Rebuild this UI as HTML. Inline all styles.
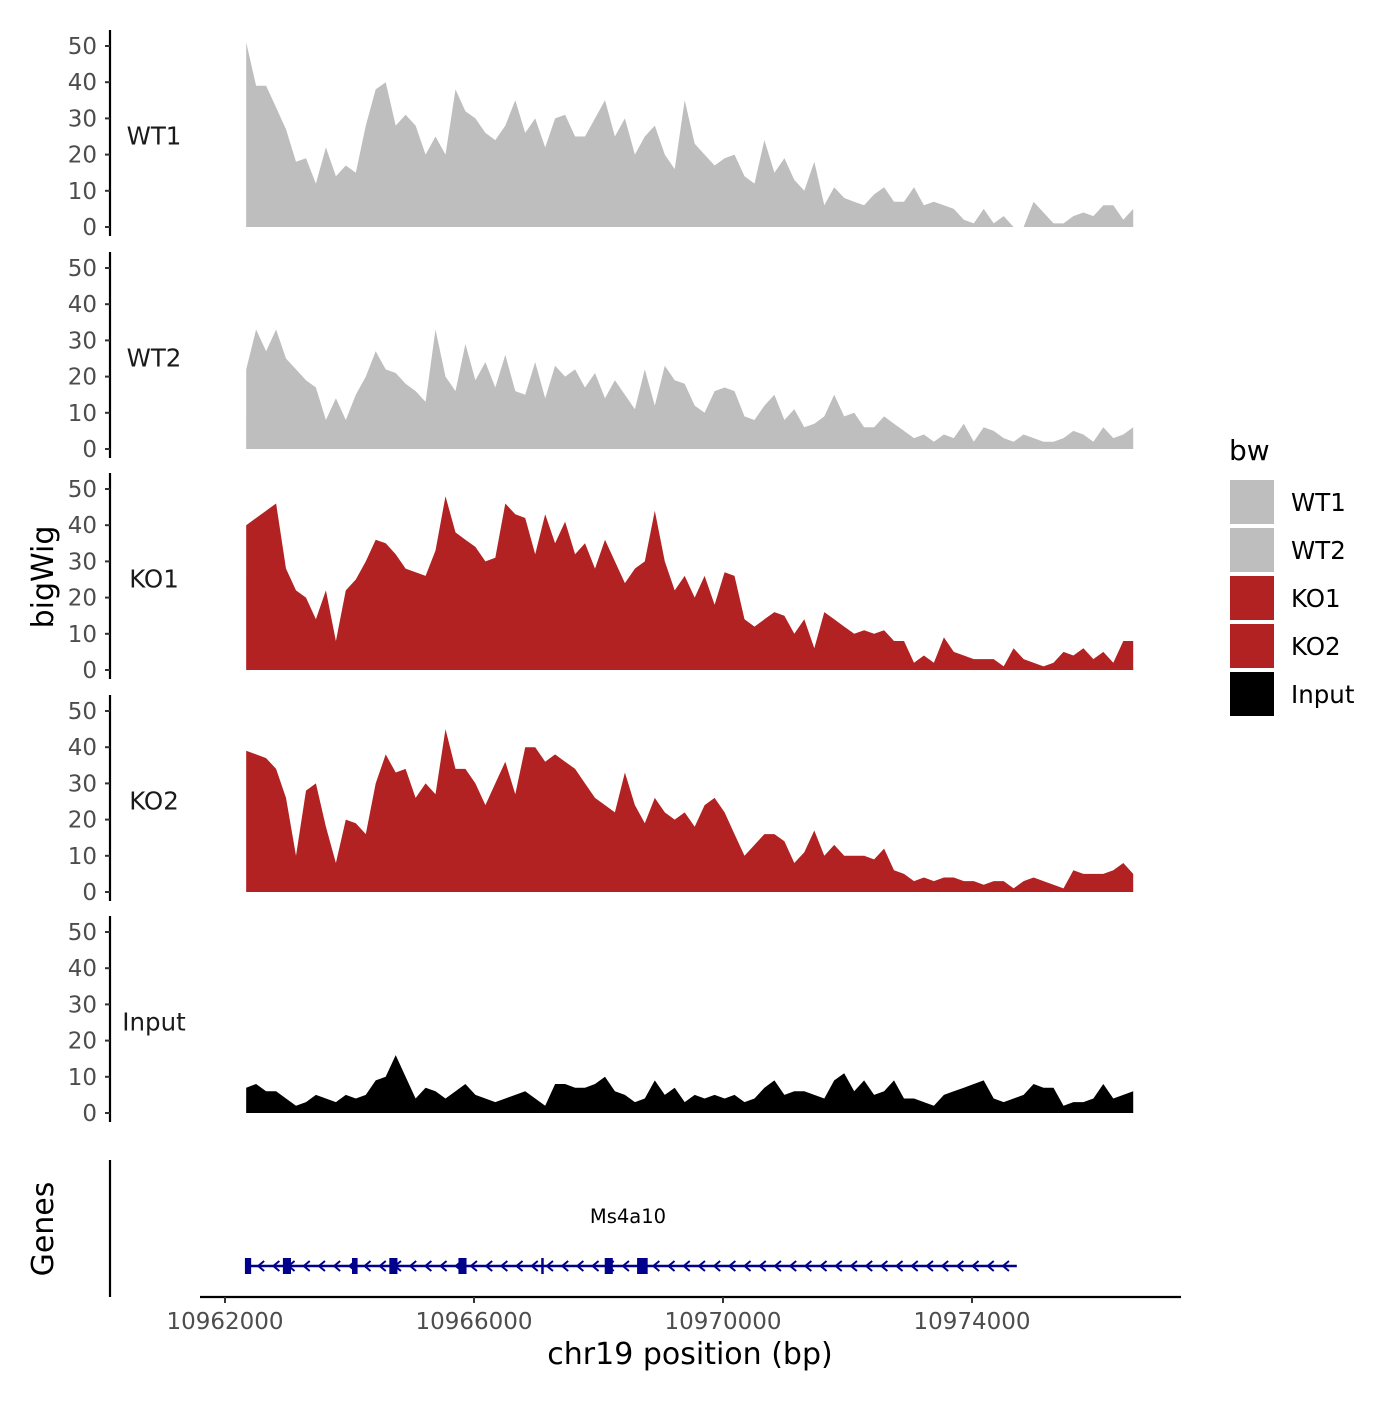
<!DOCTYPE html>
<html><head><meta charset="utf-8"><style>
body{margin:0;background:#fff}
svg{font-family:"DejaVu Sans","Liberation Sans",sans-serif}
</style></head><body>
<svg id="chart" width="1400" height="1400" viewBox="0 0 1400 1400" xmlns="http://www.w3.org/2000/svg">
<rect width="1400" height="1400" fill="#fff"/>
<g id="panels"></g>
<g id="genes"></g>
<text x="0" y="0" transform="translate(53,577) rotate(-90)" text-anchor="middle" font-size="30" fill="#000">bigWig</text>
<text transform="translate(53,1229) rotate(-90)" text-anchor="middle" font-size="30" fill="#000">Genes</text>
<text x="690" y="1364" text-anchor="middle" font-size="30" fill="#000">chr19 position (bp)</text>
<g id="legend"></g>
</svg>
<script>
const sampleNames = ["WT1","WT2","KO1","KO2","Input"];
const sampleColors = ["#bebebe","#bebebe","#b22222","#b22222","#000000"];
const yTicks = [0,10,20,30,40,50];
const xTicks = [10962000,10966000,10970000,10974000];
const dataStart = 10962340;
const dataEnd = 10976590;
const wt1 = [51,39,39,33,27,18,19,12,22,14,17,15,28,38,40,28,31,28,20,25,20,38,32,30,26,24,28,35,26,30,22,30,31,25,25,30,35,25,30,20,25,28,20,16,35,23,20,17,19,20,14,12,24,15,19,13,10,18,6,11,8,7,6,9,11,7,7,11,6,7,6,5,2,1,5,1,3,0,0,7,4,1,1,3,4,3,6,6,2,5];
const wt2 = [22,33,27,33,25,22,19,17,8,14,8,15,20,27,22,21,18,16,13,33,20,16,29,19,24,17,26,16,15,24,14,23,20,22,17,21,14,19,15,11,22,12,23,19,18,12,10,16,17,16,9,8,12,15,8,11,6,7,9,15,9,10,6,6,9,7,5,3,4,2,4,3,7,2,6,5,3,2,4,3,2,2,3,5,4,2,6,3,4,6];
const ko1 = [40,42,44,46,28,22,20,14,22,8,22,25,30,36,35,32,28,27,26,33,48,38,36,34,30,31,46,43,42,32,43,35,41,32,35,28,36,30,24,28,30,44,30,22,26,20,26,18,27,26,14,12,14,16,15,10,14,6,16,14,12,10,11,10,11,8,8,2,4,2,9,5,4,3,3,3,1,6,3,2,1,2,5,4,6,3,5,2,8,8];
const ko2 = [39,38,37,34,26,10,28,30,18,8,20,19,16,30,38,33,34,26,30,27,45,34,34,30,24,30,36,27,40,40,36,38,36,34,30,26,24,22,33,24,19,26,22,20,22,18,24,26,22,16,10,13,16,16,14,8,11,17,10,13,10,10,10,9,12,6,5,3,4,3,4,4,3,3,2,3,3,1,3,4,3,2,1,6,5,5,5,6,8,5];
const input = [7,8,6,6,4,2,3,5,4,3,5,4,5,9,10,16,10,4,7,6,4,6,8,5,4,3,4,5,6,4,2,8,8,7,7,8,10,6,5,3,4,9,5,7,3,5,4,5,4,5,3,4,7,9,5,6,6,5,4,9,11,6,9,5,6,9,4,4,3,2,5,6,7,8,9,4,3,4,5,8,7,7,2,3,3,4,8,4,5,6];
const exonStarts = [10962320,10962930,10964040,10964640,10965750,10967080,10968100,10968620];
const exonWidths = [100,130,90,130,130,40,130,170];
const exonHeights = [16,16,16,16,16,16,16,16];
const geneStart = 10962340;
const geneEnd = 10974720;

const NS="http://www.w3.org/2000/svg";
function mk(tag,attrs,parent){const e=document.createElementNS(NS,tag);for(const k in attrs)e.setAttribute(k,attrs[k]);parent.appendChild(e);return e;}
const xScale = bp => 225 + (bp-10962000)*(747/12000);
const panelZero = [227,449,670,892,1113];
const yScale = (v,p) => panelZero[p] - v*3.62;
const series = [wt1,wt2,ko1,ko2,input];
const panels = document.getElementById('panels');

series.forEach((vals,p)=>{
  const g = mk('g',{},panels);
  
  
  const n = vals.length;
  let d = 'M'+xScale(dataStart)+','+yScale(0,p);
  vals.forEach((v,i)=>{const bp=dataStart+(dataEnd-dataStart)*i/(n-1);d+=' L'+xScale(bp).toFixed(1)+','+yScale(v,p).toFixed(1);});
  d += ' L'+xScale(dataEnd)+','+yScale(0,p)+' Z';
  const area = mk('path',{d:d,fill:sampleColors[p]},g);
  
  
  const ax = mk('line',{x1:110,x2:110,y1:yScale(50,p)-16,y2:yScale(0,p)+9,stroke:'#000','stroke-width':2.2},g);
  
  
  yTicks.forEach(t=>{
    const y=yScale(t,p);
    mk('line',{x1:105,x2:110,y1:y,y2:y,stroke:'#333','stroke-width':2},g);
    const tx = mk('text',{x:97,y:y+8,'text-anchor':'end','font-size':23,fill:'#4d4d4d'},g);
    tx.textContent=t;
    
    
  });
  const lb = mk('text',{x:154,y:yScale(25,p)+8,'text-anchor':'middle','font-size':24.5,fill:'#1a1a1a'},g);
  lb.textContent=sampleNames[p];
  
  
});

const gg = document.getElementById('genes');
mk('line',{x1:110,x2:110,y1:1160,y2:1297,stroke:'#000','stroke-width':2.2},gg);
mk('line',{x1:200,x2:1181,y1:1297,y2:1297,stroke:'#000','stroke-width':2.2},gg);
xTicks.forEach(t=>{
  const x=xScale(t);
  mk('line',{x1:x,x2:x,y1:1297,y2:1303,stroke:'#333','stroke-width':2},gg);
  const tx=mk('text',{x:x,y:1329,'text-anchor':'middle','font-size':23,fill:'#4d4d4d'},gg);
  tx.textContent=t;
  
  
});
const gl = mk('line',{x1:xScale(geneStart),x2:xScale(geneEnd),y1:1266,y2:1266,stroke:'#00008b','stroke-width':2.5},gg);


for(let x=xScale(geneStart)+14;x<xScale(geneEnd);x+=15.2){
  mk('path',{d:`M${x+4},${1261} L${x-2},1266 L${x+4},1271`,fill:'none',stroke:'#00008b','stroke-width':2},gg);
}
exonStarts.forEach((s,i)=>{
  const r=mk('rect',{x:xScale(s),y:1266-exonHeights[i]/2,width:xScale(s+exonWidths[i])-xScale(s),height:exonHeights[i],fill:'#00008b'},gg);
  
  
});
const gn=mk('text',{x:628,y:1223,'text-anchor':'middle','font-size':19.5,fill:'#000'},gg);
gn.textContent='Ms4a10';



const lg=document.getElementById('legend');
const lt=mk('text',{x:1229,y:460,'font-size':28,fill:'#000'},lg);
lt.textContent='bw';


sampleNames.forEach((n,i)=>{
  const y=480+i*48;
  const r=mk('rect',{x:1230,y:y,width:44,height:44,fill:sampleColors[i]},lg);
  
  
  const t=mk('text',{x:1291,y:y+31,'font-size':24.5,fill:'#000'},lg);
  t.textContent=n;
  
  
});
</script>
</body></html>
